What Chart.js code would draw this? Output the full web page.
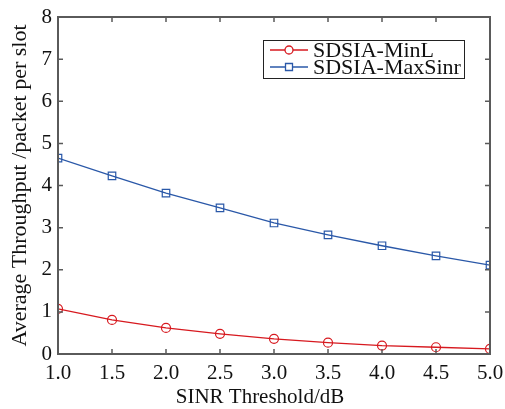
<!DOCTYPE html>
<html>
<head>
<meta charset="utf-8">
<script src="https://cdn.jsdelivr.net/npm/chart.js@4/dist/chart.umd.min.js"></script>
<style>
  html, body { margin: 0; padding: 0; background: #fff; }
  #wrap { width: 505px; height: 409px; }
</style>
</head>
<body>
<div id="wrap"><canvas id="thrChart" width="505" height="409"></canvas></div>
<script>
// data
const sinrThreshold = [1.0, 1.5, 2.0, 2.5, 3.0, 3.5, 4.0, 4.5, 5.0];
const minL = [1.07, 0.81, 0.62, 0.48, 0.36, 0.27, 0.20, 0.16, 0.12];
const maxSinr = [4.65, 4.23, 3.82, 3.47, 3.11, 2.83, 2.57, 2.33, 2.11];
const seriesNames = ["SDSIA-MinL", "SDSIA-MaxSinr"];
const xTicks = [1.0, 1.5, 2.0, 2.5, 3.0, 3.5, 4.0, 4.5, 5.0];
const yTicks = [0, 1, 2, 3, 4, 5, 6, 7, 8];
const xTitle = "SINR Threshold/dB";
const yTitle = "Average Throughput /packet per slot";

const serif = "'Liberation Serif', 'DejaVu Serif', serif";
const axisGray = "#5a5a5a";

// inward ticks on all four sides + box frame + x title (centred on the figure, like the original)
const framePlugin = {
  id: "frame",
  afterDatasetsDraw(chart) {
    const { ctx, chartArea: a, scales } = chart;
    ctx.save();
    ctx.strokeStyle = axisGray;
    ctx.lineWidth = 1.5;
    const len = 5;
    ctx.beginPath();
    xTicks.forEach(v => {
      const px = scales.x.getPixelForValue(v);
      ctx.moveTo(px, a.bottom); ctx.lineTo(px, a.bottom - len);
      ctx.moveTo(px, a.top); ctx.lineTo(px, a.top + len);
    });
    yTicks.forEach(v => {
      const py = scales.y.getPixelForValue(v);
      ctx.moveTo(a.left, py); ctx.lineTo(a.left + len, py);
      ctx.moveTo(a.right, py); ctx.lineTo(a.right - len, py);
    });
    ctx.stroke();
    ctx.lineWidth = 2;
    ctx.strokeRect(a.left, a.top, a.right - a.left, a.bottom - a.top);

    ctx.fillStyle = "#111";
    ctx.font = "21px " + serif;
    ctx.textAlign = "center";
    ctx.textBaseline = "alphabetic";
    ctx.fillText(xTitle, 260, 403);
    ctx.restore();
  }
};

// boxed legend in the upper right of the plot
const legendBox = {
  id: "legendBox",
  afterDraw(chart) {
    const { ctx } = chart;
    const x = 263, y = 40, w = 201, h = 38;
    ctx.save();
    ctx.fillStyle = "#fff";
    ctx.fillRect(x, y, w, h);
    ctx.strokeStyle = "#222";
    ctx.lineWidth = 1;
    ctx.strokeRect(x + 0.5, y + 0.5, w, h);
    chart.data.datasets.forEach((ds, i) => {
      const cy = y + 10 + i * 17;
      ctx.strokeStyle = ds.borderColor;
      ctx.lineWidth = 1.3;
      ctx.beginPath();
      ctx.moveTo(x + 7, cy); ctx.lineTo(x + 45, cy);
      ctx.stroke();
      const mx = x + 26;
      ctx.beginPath();
      if (ds.pointStyle === "rect") {
        ctx.rect(mx - 3.5, cy - 3.5, 7, 7);
      } else {
        ctx.arc(mx, cy, 4, 0, Math.PI * 2);
      }
      ctx.fillStyle = "#fff";
      ctx.fill();
      ctx.stroke();
      ctx.fillStyle = "#111";
      ctx.font = "22px " + serif;
      ctx.textBaseline = "middle";
      ctx.fillText(ds.label, x + 50, cy + 1);
    });
    ctx.restore();
  }
};

new Chart(document.getElementById("thrChart").getContext("2d"), {
  type: "line",
  data: {
    datasets: [
      {
        label: seriesNames[0],
        data: sinrThreshold.map((x, i) => ({ x: x, y: minL[i] })),
        borderColor: "#d7191f",
        borderWidth: 1.3,
        pointStyle: "circle",
        pointRadius: 4.5,
        pointBorderWidth: 1.2,
        pointBackgroundColor: "transparent",
        pointBorderColor: "#d7191f",
        tension: 0
      },
      {
        label: seriesNames[1],
        data: sinrThreshold.map((x, i) => ({ x: x, y: maxSinr[i] })),
        borderColor: "#2a58a8",
        borderWidth: 1.3,
        pointStyle: "rect",
        pointRadius: 5.3,
        pointBorderWidth: 1.2,
        pointBackgroundColor: "transparent",
        pointBorderColor: "#2a58a8",
        tension: 0
      }
    ]
  },
  options: {
    responsive: false,
    animation: false,
    layout: { padding: { top: 17, right: 15, left: 7, bottom: 0 } },
    plugins: { legend: { display: false }, tooltip: { enabled: false } },
    scales: {
      x: {
        type: "linear",
        min: 1, max: 5,
        afterBuildTicks: s => { s.ticks = xTicks.map(v => ({ value: v })); },
        afterFit: s => { s.height = 55; s.paddingRight = 0; s.paddingLeft = 0; },
        grid: { display: false, drawTicks: false },
        border: { display: false },
        ticks: {
          color: "#111",
          padding: 7,
          maxRotation: 0,
          font: { family: serif, size: 21 },
          callback: v => Number(v).toFixed(1)
        }
      },
      y: {
        min: 0, max: 8,
        afterBuildTicks: s => { s.ticks = yTicks.map(v => ({ value: v })); },
        afterFit: s => { s.width = 51; s.paddingTop = 0; s.paddingBottom = 0; },
        grid: { display: false, drawTicks: false },
        border: { display: false },
        ticks: {
          color: "#111",
          padding: 6,
          font: { family: serif, size: 21 },
          callback: v => String(v)
        },
        title: {
          display: true,
          text: yTitle,
          color: "#111",
          font: { family: serif, size: 22 },
          padding: { top: 0, bottom: 0 }
        }
      }
    }
  },
  plugins: [framePlugin, legendBox]
});
</script>
</body>
</html>
